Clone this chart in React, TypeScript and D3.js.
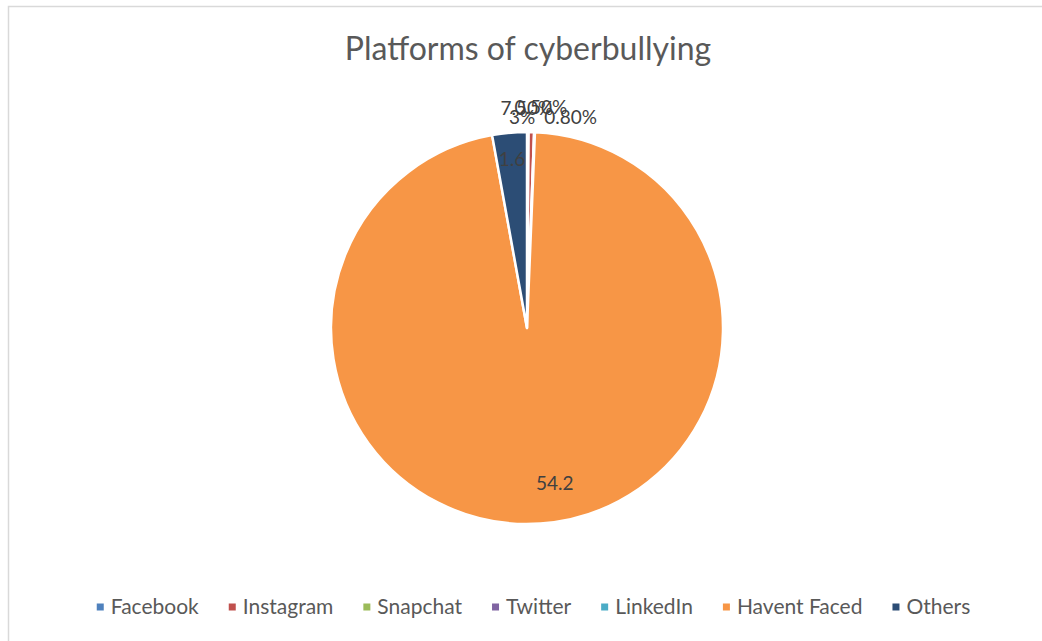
import React, { useEffect, useRef } from "react";
import * as d3 from "d3";

const categories = ["Facebook", "Instagram", "Snapchat", "Twitter", "LinkedIn", "Havent Faced", "Others"];
const values = [0.075, 0.25, 0.03, 0.008, 0, 54.2, 1.6];
const valueLabels = ["7.50%", "0.50%", "3%", "0.80%", "", "54.2", "1.6"];
const colors = ["#4F81BD", "#C0504D", "#9BBB59", "#8064A2", "#4BACC6", "#F79646", "#2C4D75"];
const title = "Platforms of cyberbullying";

// label placement (style): kind and nudges
const labelKind = ["out", "out", "out", "out", "none", "in", "in"];
const labelNudgeX = [-1, 9, -13, 35, 0, 17, 0];
const labelNudgeY = [3, 2, 12, 12, 0, -1, 0];

const W = 1042;
const H = 641;
const FONT = "Lato, 'Noto Sans', sans-serif";

export default function App() {
  const ref = useRef<SVGSVGElement | null>(null);

  useEffect(() => {
    const svg = d3.select(ref.current);
    svg.selectAll("*").remove();

    svg.append("rect").attr("width", W).attr("height", H).attr("fill", "#fff");
    svg
      .append("rect")
      .attr("x", 8.5)
      .attr("y", 6.5)
      .attr("width", W)
      .attr("height", H)
      .attr("fill", "none")
      .attr("stroke", "#d9d9d9")
      .attr("stroke-width", 1.5);

    const cx = 527;
    const cy = 328;
    const r = 196;

    svg
      .append("text")
      .attr("x", cx + 1)
      .attr("y", 60)
      .attr("text-anchor", "middle")
      .attr("font-family", FONT)
      .attr("font-size", 32)
      .attr("fill", "#595959")
      .text(title);

    const data = categories.map((c, i) => ({ c, v: values[i], i }));
    const pie = d3.pie<any>().sort(null).value((d: any) => d.v);
    const arcs = pie(data);
    const arc = d3.arc<any>().innerRadius(0).outerRadius(r);

    const g = svg.append("g").attr("transform", `translate(${cx},${cy})`);
    g.selectAll("path.slice")
      .data(arcs)
      .join("path")
      .attr("class", "slice")
      .attr("d", arc as any)
      .attr("fill", (d: any) => colors[d.data.i])
      .attr("stroke", "#fff")
      .attr("stroke-width", 2.5)
      .attr("stroke-linejoin", "round");

    arcs.forEach((a: any) => {
      const i = a.data.i;
      const kind = labelKind[i];
      if (kind === "none" || !valueLabels[i]) return;
      const mid = (a.startAngle + a.endAngle) / 2;
      let d: number;
      let baseShift: number;
      if (kind === "out") {
        d = r + 20;
        baseShift = 0;
      } else {
        d = i === 5 ? r * 0.8 : r * 0.862;
        baseShift = 6.5;
      }
      const x = Math.sin(mid) * d + labelNudgeX[i];
      const y = -Math.cos(mid) * d + labelNudgeY[i] + baseShift;
      g.append("text")
        .attr("x", x)
        .attr("y", y)
        .attr("text-anchor", "middle")
        .attr("font-family", FONT)
        .attr("font-size", 19)
        .attr("fill", "#404040")
        .text(valueLabels[i]);
    });

    // legend
    const lg = svg.append("g");
    const items = categories.map((c, i) => {
      const t = lg
        .append("text")
        .attr("font-family", FONT)
        .attr("font-size", 21)
        .attr("fill", "#595959")
        .attr("y", 614)
        .text(c);
      const w = (t.node() as SVGTextElement).getComputedTextLength();
      return { t, w, i };
    });
    const box = 7;
    const gapBoxText = 7;
    const gapItem = 30;
    const total = items.reduce((s, it) => s + box + gapBoxText + it.w, 0) + gapItem * (items.length - 1);
    let x = 533.5 - total / 2;
    items.forEach((it) => {
      lg.append("rect")
        .attr("x", x)
        .attr("y", 607 - box / 2)
        .attr("width", box)
        .attr("height", box)
        .attr("fill", colors[it.i]);
      it.t.attr("x", x + box + gapBoxText);
      x += box + gapBoxText + it.w + gapItem;
    });
  }, []);

  return (
    <svg
      ref={ref}
      width={W}
      height={H}
      style={{ position: "absolute", left: 0, top: 0, display: "block" }}
    />
  );
}
